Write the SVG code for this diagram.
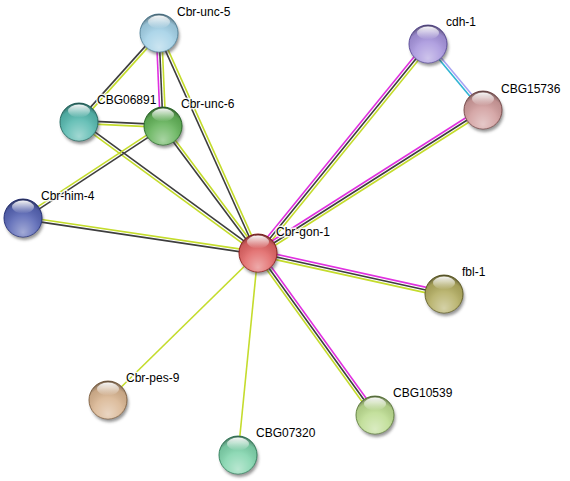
<svg xmlns="http://www.w3.org/2000/svg" width="570" height="481" viewBox="0 0 570 481">
<style>
.e line{stroke-width:1.6;fill:none}
.tm{stroke:#c4dc2c}
.co{stroke:#3e3e3e}
.ex{stroke:#e030e0}
.db{stroke:#30b4d4}
.ho{stroke:#a8a4f4}
.shadow{fill:#404040;opacity:.55;filter:url(#blur)}
.ov{fill:url(#ov)}
.sh{fill:url(#shine)}
text{font-family:"Liberation Sans",Arial,sans-serif;font-size:12px;fill:#000;stroke:#fff;stroke-width:3;stroke-opacity:.85;paint-order:stroke;stroke-linejoin:round}
</style>
<defs>
<filter id="blur" x="-50%" y="-50%" width="200%" height="200%"><feGaussianBlur stdDeviation="1.6"/></filter>
<radialGradient id="ov" cx="0.5" cy="0.72" r="0.72" fx="0.5" fy="0.88">
<stop offset="0" stop-color="#fff" stop-opacity="0.45"/>
<stop offset="0.5" stop-color="#fff" stop-opacity="0.12"/>
<stop offset="0.82" stop-color="#000" stop-opacity="0.08"/>
<stop offset="1" stop-color="#000" stop-opacity="0.45"/>
</radialGradient>
<linearGradient id="shine" x1="0" y1="0" x2="0" y2="1">
<stop offset="0" stop-color="#fff" stop-opacity="0.95"/>
<stop offset="1" stop-color="#fff" stop-opacity="0"/>
</linearGradient>
<g id="gloss">
<circle class="shadow" cx="1.5" cy="3" r="19"/>
</g>
</defs>
<rect width="570" height="481" fill="#fff"/>
<g id="connectors" class="e">
<line class="co" x1="158" y1="32.1" x2="78" y2="121.1"/>
<line class="tm" x1="160" y1="33.9" x2="80" y2="122.9"/>
<line class="ex" x1="156.3" y1="33.1" x2="160.3" y2="126.1"/>
<line class="co" x1="159" y1="33" x2="163" y2="126"/>
<line class="tm" x1="161.7" y1="32.9" x2="165.7" y2="125.9"/>
<line class="co" x1="157.77" y1="33.55" x2="256.77" y2="253.55"/>
<line class="tm" x1="160.23" y1="32.45" x2="259.23" y2="252.45"/>
<line class="co" x1="79.06" y1="120.65" x2="163.06" y2="124.65"/>
<line class="tm" x1="78.94" y1="123.35" x2="162.94" y2="127.35"/>
<line class="co" x1="79.8" y1="120.91" x2="258.8" y2="251.91"/>
<line class="tm" x1="78.2" y1="123.09" x2="257.2" y2="254.09"/>
<line class="tm" x1="162.26" y1="124.87" x2="22.26" y2="216.87"/>
<line class="co" x1="163.74" y1="127.13" x2="23.74" y2="219.13"/>
<line class="co" x1="161.92" y1="126.81" x2="256.92" y2="253.81"/>
<line class="tm" x1="164.08" y1="125.19" x2="259.08" y2="252.19"/>
<line class="tm" x1="23.2" y1="216.67" x2="258.2" y2="251.67"/>
<line class="co" x1="22.8" y1="219.34" x2="257.8" y2="254.34"/>
<line class="ex" x1="425.9" y1="42.3" x2="255.9" y2="251.3"/>
<line class="co" x1="428" y1="44" x2="258" y2="253"/>
<line class="tm" x1="430.1" y1="45.7" x2="260.1" y2="254.7"/>
<line class="ex" x1="481.55" y1="107.72" x2="256.55" y2="250.72"/>
<line class="co" x1="483" y1="110" x2="258" y2="253"/>
<line class="tm" x1="484.45" y1="112.28" x2="259.45" y2="255.28"/>
<line class="ex" x1="444.58" y1="291.36" x2="258.58" y2="250.36"/>
<line class="co" x1="444" y1="294" x2="258" y2="253"/>
<line class="tm" x1="443.42" y1="296.64" x2="257.42" y2="255.64"/>
<line class="ex" x1="377.19" y1="413.42" x2="260.19" y2="251.42"/>
<line class="co" x1="375" y1="415" x2="258" y2="253"/>
<line class="tm" x1="372.81" y1="416.58" x2="255.81" y2="254.58"/>
<line class="tm" x1="108" y1="400" x2="258" y2="253"/>
<line class="tm" x1="238" y1="455" x2="258" y2="253"/>
<line class="db" x1="426.96" y1="44.86" x2="481.96" y2="110.86"/>
<line class="ho" x1="429.04" y1="43.14" x2="484.04" y2="109.14"/>
</g>
<g id="n-unc5" transform="translate(159,33)">
<use href="#gloss"/><circle r="19" fill="#a2d0e6" stroke="#5d8ea6" stroke-width="1"/><circle r="19" class="ov"/><ellipse class="sh" cy="-11" rx="11" ry="6.5"/>
<text x="18" y="-17">Cbr-unc-5</text></g>
<g id="n-cbg06891" transform="translate(79,122)">
<use href="#gloss"/><circle r="19" fill="#55b8ae" stroke="#2c746c" stroke-width="1"/><circle r="19" class="ov"/><ellipse class="sh" cy="-11" rx="11" ry="6.5"/>
<text x="18" y="-18">CBG06891</text></g>
<g id="n-unc6" transform="translate(163,126)">
<use href="#gloss"/><circle r="19" fill="#62b258" stroke="#2e742c" stroke-width="1"/><circle r="19" class="ov"/><ellipse class="sh" cy="-11" rx="11" ry="6.5"/>
<text x="18" y="-18">Cbr-unc-6</text></g>
<g id="n-him4" transform="translate(23,218)">
<use href="#gloss"/><circle r="19" fill="#5664b4" stroke="#283480" stroke-width="1"/><circle r="19" class="ov"/><ellipse class="sh" cy="-11" rx="11" ry="6.5"/>
<text x="18" y="-18">Cbr-him-4</text></g>
<g id="n-cdh1" transform="translate(428,44)">
<use href="#gloss"/><circle r="19" fill="#a694dc" stroke="#6454a4" stroke-width="1"/><circle r="19" class="ov"/><ellipse class="sh" cy="-11" rx="11" ry="6.5"/>
<text x="18" y="-18">cdh-1</text></g>
<g id="n-cbg15736" transform="translate(483,110)">
<use href="#gloss"/><circle r="19" fill="#d09c9c" stroke="#845454" stroke-width="1"/><circle r="19" class="ov"/><ellipse class="sh" cy="-11" rx="11" ry="6.5"/>
<text x="18" y="-17">CBG15736</text></g>
<g id="n-fbl1" transform="translate(444,294)">
<use href="#gloss"/><circle r="19" fill="#b2ac60" stroke="#6c682c" stroke-width="1"/><circle r="19" class="ov"/><ellipse class="sh" cy="-11" rx="11" ry="6.5"/>
<text x="18" y="-18">fbl-1</text></g>
<g id="n-pes9" transform="translate(108,400)">
<use href="#gloss"/><circle r="19" fill="#d8b490" stroke="#8c6c4c" stroke-width="1"/><circle r="19" class="ov"/><ellipse class="sh" cy="-11" rx="11" ry="6.5"/>
<text x="18" y="-18">Cbr-pes-9</text></g>
<g id="n-cbg07320" transform="translate(238,455)">
<use href="#gloss"/><circle r="19" fill="#80d4ac" stroke="#3c8c68" stroke-width="1"/><circle r="19" class="ov"/><ellipse class="sh" cy="-11" rx="11" ry="6.5"/>
<text x="18" y="-18">CBG07320</text></g>
<g id="n-cbg10539" transform="translate(375,415)">
<use href="#gloss"/><circle r="19" fill="#bcdc90" stroke="#6c8c48" stroke-width="1"/><circle r="19" class="ov"/><ellipse class="sh" cy="-11" rx="11" ry="6.5"/>
<text x="18" y="-18">CBG10539</text></g>
<g id="n-gon1" transform="translate(258,253)">
<use href="#gloss"/><circle r="19" fill="#e06464" stroke="#961f1f" stroke-width="1"/><circle r="19" class="ov"/><ellipse class="sh" cy="-11" rx="11" ry="6.5"/>
<text x="18" y="-17">Cbr-gon-1</text></g>
</svg>
